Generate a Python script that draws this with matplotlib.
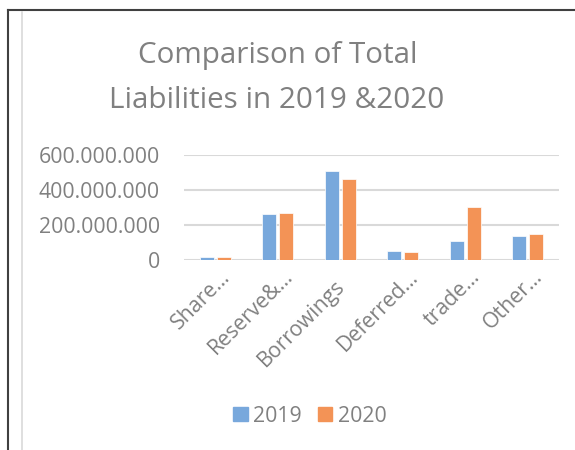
import numpy as np
import matplotlib.pyplot as plt
import matplotlib.transforms as mtrans
from matplotlib.lines import Line2D
from matplotlib.patches import Patch
from matplotlib.ticker import FuncFormatter

categories = ['Share…', 'Reserve&…', 'Borrowings', 'Deferred…', 'trade…', 'Other…']
y2019 = [15e6, 263e6, 509e6, 51e6, 106e6, 133e6]
y2020 = [15e6, 269e6, 461e6, 43e6, 300e6, 147e6]

c19 = '#78a8dc'
c20 = '#f39356'
txt = '#808080'
fs = 15.3

plt.rcParams['font.family'] = ['Open Sans', 'DejaVu Sans']

W, H = 575, 450
fig = plt.figure(figsize=(W / 100, H / 100), dpi=100)

# frame lines round the chart
fig.add_artist(Line2D([8 / W, 1], [1 - 10 / H, 1 - 10 / H], color='#404040', lw=1.5))
fig.add_artist(Line2D([8 / W, 8 / W], [0, 1 - 10 / H], color='#404040', lw=1.5))
fig.add_artist(Line2D([22 / W, 22 / W], [0, 1 - 12 / H], color='#d9d9d9', lw=1.2))

ax = fig.add_axes([184 / W, 1 - 259.5 / H, 375 / W, 104.5 / H])
x = np.arange(len(categories))
w = 0.225
ax.bar(x - w / 2 - 0.025, y2019, w, color=c19, edgecolor='white', lw=0.5, zorder=3)
ax.bar(x + w / 2 + 0.025, y2020, w, color=c20, edgecolor='white', lw=0.5, zorder=3)

ax.set_xlim(-0.5, len(categories) - 0.5)
ax.set_ylim(0, 600e6)
ax.set_yticks([0, 200e6, 400e6, 600e6])
ax.yaxis.set_major_formatter(FuncFormatter(lambda v, p: '0' if v == 0 else f'{int(v):,}'.replace(',', '.')))
ax.grid(axis='y', color='#d9d9d9', lw=1.5, zorder=0)
for s in ax.spines.values():
    s.set_visible(False)
ax.tick_params(length=0, labelsize=fs, labelcolor=txt)
ax.tick_params(axis='y', pad=17.3)
ax.set_xticks(x)
ax.set_xticklabels([])

# rotated category labels, anchored at the end of the baseline
blend = mtrans.blended_transform_factory(ax.transData, ax.transAxes)
for xi, lab in zip(x, categories):
    dx, dy = 16, -18
    if not lab.endswith('…'):
        dx, dy = dx - 11, dy - 10
    tr = blend + mtrans.ScaledTranslation(dx / 100, dy / 100, fig.dpi_scale_trans)
    ax.text(xi, 0, lab, transform=tr, rotation=45, ha='right', va='baseline',
            rotation_mode='anchor', fontsize=fs, color=txt)

fig.text(278 / W, 1 - 56 / H, 'Comparison of Total', ha='center', va='center', fontsize=21.3, color=txt)
fig.text(277 / W, 1 - 100 / H, 'Liabilities in 2019 &2020', ha='center', va='center', fontsize=21.3, color=txt)

handles = [Patch(color=c19, label='2019'), Patch(color=c20, label='2020')]
fig.legend(handles=handles, loc='center', bbox_to_anchor=(310 / W, 1 - 416 / H), ncol=2, frameon=False,
           fontsize=fs, labelcolor=txt, handlelength=0.66, handleheight=0.66, columnspacing=0.8,
           handletextpad=0.25)

fig.savefig('out.png', dpi=100)
